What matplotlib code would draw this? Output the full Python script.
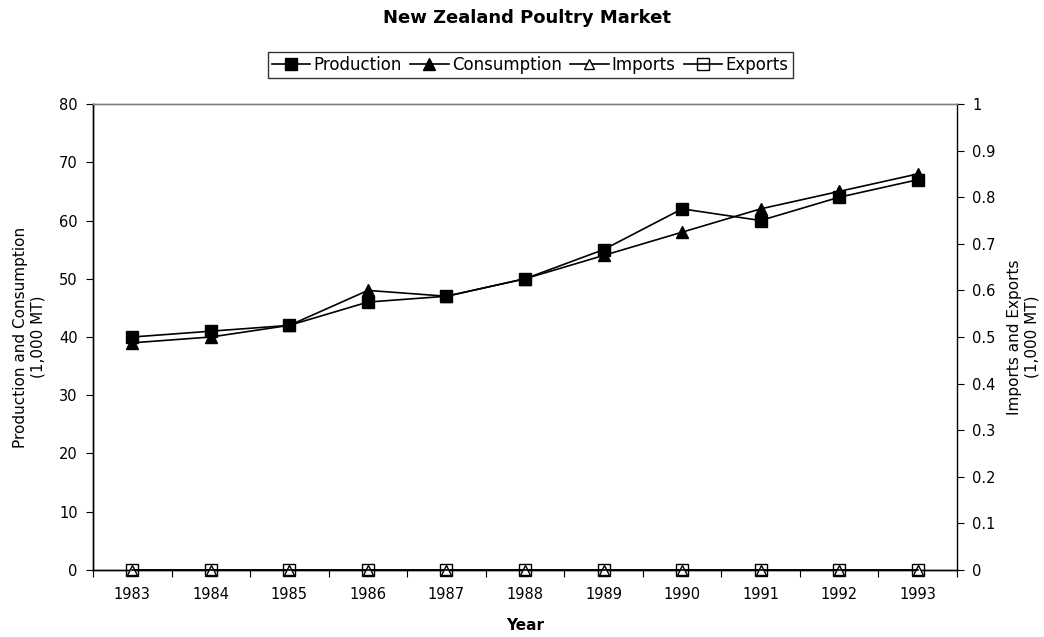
import numpy as np
import matplotlib.pyplot as plt

plt.rcParams['font.family'] = ['DejaVu Sans']

years = [1983, 1984, 1985, 1986, 1987, 1988, 1989, 1990, 1991, 1992, 1993]
production = [40, 41, 42, 46, 47, 50, 55, 62, 60, 64, 67]
consumption = [39, 40, 42, 48, 47, 50, 54, 58, 62, 65, 68]
imports = [0, 0, 0, 0, 0, 0, 0, 0, 0, 0, 0]
exports = [0, 0, 0, 0, 0, 0, 0, 0, 0, 0, 0]

fig = plt.figure(figsize=(10.44, 6.37), dpi=100)
ax = fig.add_axes([0.0891, 0.1052, 0.8276, 0.7315])
ax2 = ax.twinx()

x = np.arange(len(years))

l1, = ax.plot(x, production, color='black', lw=1.2, marker='s', ms=8,
              mfc='black', mec='black', clip_on=False, zorder=3)
l2, = ax.plot(x, consumption, color='black', lw=1.2, marker='^', ms=8,
              mfc='black', mec='black', clip_on=False, zorder=3)
l3, = ax2.plot(x, imports, color='black', lw=1.2, marker='^', ms=7,
               mfc='white', mec='black', clip_on=False, zorder=4)
l4, = ax2.plot(x, exports, color='black', lw=1.2, marker='s', ms=8,
               mfc='none', mec='black', clip_on=False, zorder=4)

ax.set_xlim(-0.5, len(years) - 0.5)
ax.set_ylim(0, 80)
ax2.set_ylim(0, 1)
ax.set_yticks(np.arange(0, 81, 10))
ax2.set_yticks(np.arange(0, 1.01, 0.1))
ax2.set_yticklabels(['0'] + ['%g' % round(v, 1) for v in np.arange(0.1, 1.01, 0.1)])

# category axis: ticks between categories, labels centred
ax.set_xticks(np.arange(-0.5, len(years), 1))
ax.set_xticklabels([])
ax.set_xticks(x, minor=True)
ax.set_xticklabels([str(y) for y in years], minor=True)
ax.tick_params(axis='x', which='minor', length=0, pad=12, labelsize=10.5)
ax.tick_params(axis='x', which='major', direction='out', length=5)
ax.tick_params(axis='y', direction='out', length=5, labelsize=10.5, pad=6)
ax2.tick_params(axis='y', direction='out', length=5, labelsize=10.5, pad=6)

for a in (ax, ax2):
    for s in a.spines.values():
        s.set_linewidth(1)
    a.spines['top'].set_color('#808080')
ax.spines['right'].set_visible(False)

ax.set_xlabel('Year', fontsize=11, fontweight='bold', labelpad=12)
ax.set_ylabel('Production and Consumption\n(1,000 MT)', fontsize=11, labelpad=10)
ax2.set_ylabel('Imports and Exports\n(1,000 MT)', fontsize=11, labelpad=8)

fig.text(0.505, 0.972, 'New Zealand Poultry Market', fontsize=13, fontweight='bold',
         ha='center', va='center')

leg = fig.legend([l1, l2, l3, l4], ['Production', 'Consumption', 'Imports', 'Exports'],
                 loc='center', bbox_to_anchor=(0.508, 0.898), ncol=4, fontsize=12,
                 frameon=True, fancybox=False, edgecolor='black', handlelength=2.3,
                 handletextpad=0.2, columnspacing=0.5, borderpad=0.25, borderaxespad=0)
leg.get_frame().set_linewidth(1)

fig.savefig('out.png', dpi=100)
